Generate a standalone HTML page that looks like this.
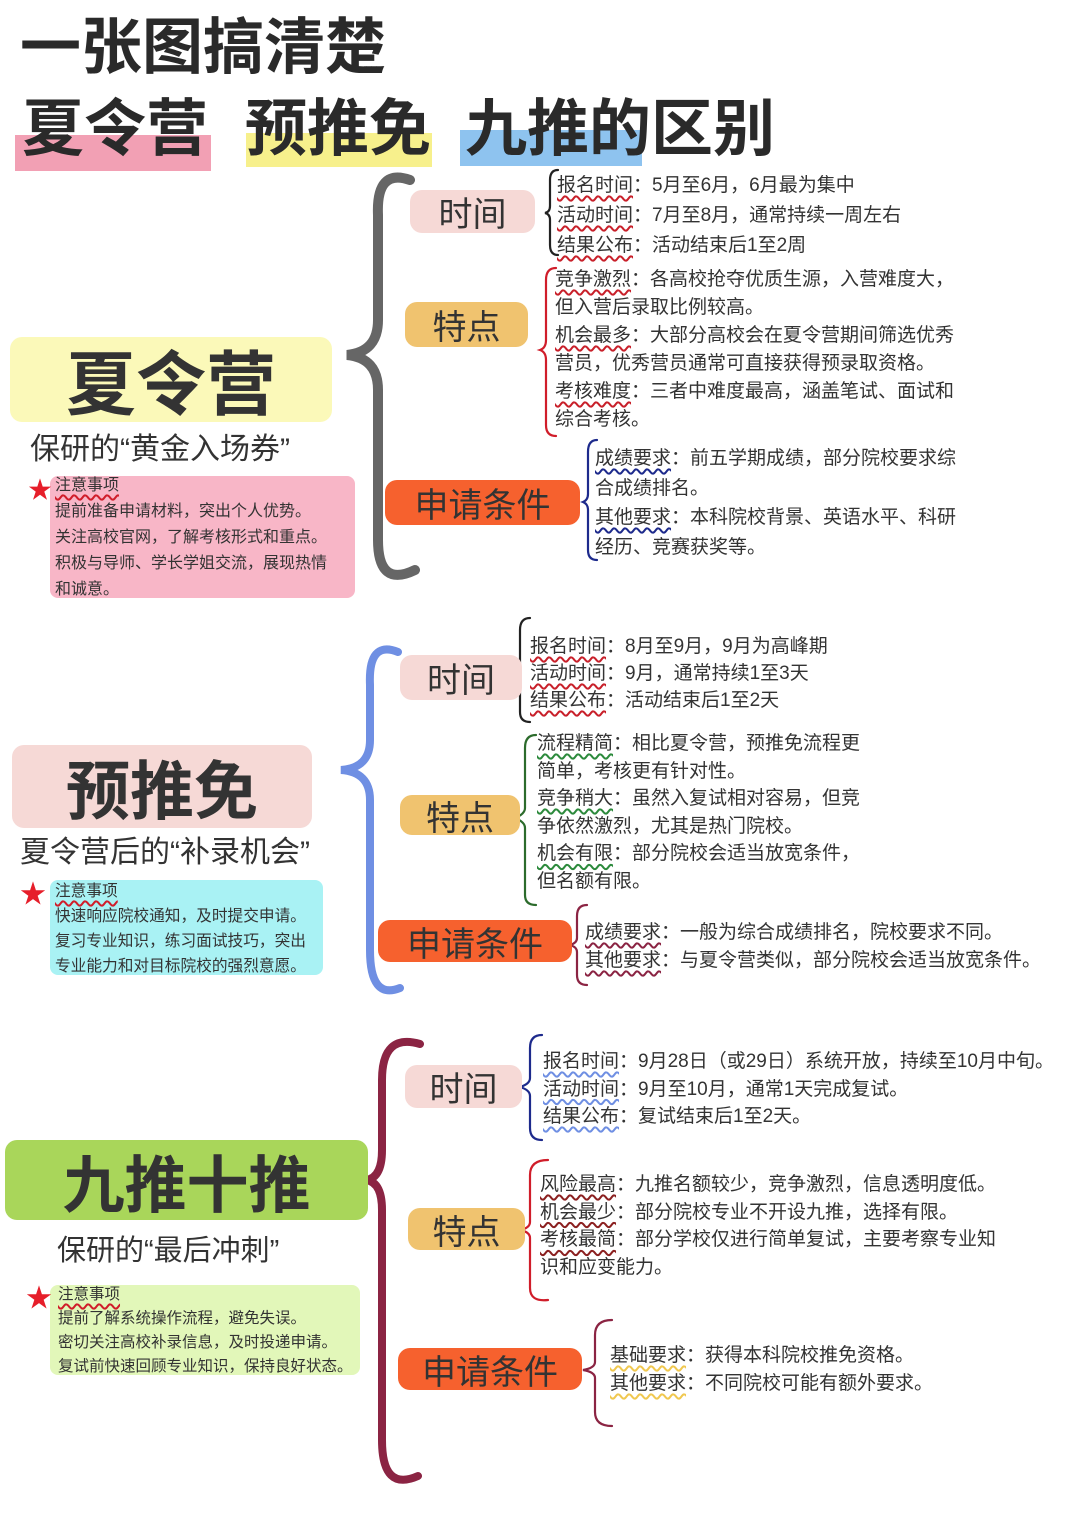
<!DOCTYPE html>
<html><head><meta charset="utf-8"><style>
body{margin:0;width:1080px;height:1528px;background:#fff;position:relative;overflow:hidden;font-family:"Liberation Sans","Noto Sans CJK SC",sans-serif;color:#222}
.a{position:absolute;white-space:nowrap}
.t{font-size:19px;line-height:24px;color:#333}
.n{font-size:16px;line-height:26px;color:#333}
.u{text-decoration:underline wavy;text-decoration-thickness:2px;text-underline-offset:4px}
.box{position:absolute;border-radius:12px;display:flex;align-items:center;justify-content:center;color:#333}
.hl{position:absolute}
.tt{position:absolute;font-size:62px;font-weight:bold;line-height:70px;color:#2a2a2a;white-space:nowrap}
</style></head><body>
<div class="hl" style="left:15px;top:135px;width:196px;height:36px;background:#f2a0b4"></div>
<div class="hl" style="left:246px;top:133px;width:186px;height:34px;background:#f7f08c"></div>
<div class="hl" style="left:460px;top:130px;width:182px;height:36px;background:#8ec3ef"></div>
<div class="a" style="left:20px;top:12px;font-size:61px;font-weight:bold;line-height:70px;color:#2a2a2a">一张图搞清楚</div>
<div class="tt" style="left:22px;top:95px">夏令营</div>
<div class="tt" style="left:245px;top:95px">预推免</div>
<div class="tt" style="left:465px;top:95px">九推的区别</div>

<svg class="a" style="left:0;top:0" width="1080" height="1528" fill="none" stroke-linecap="round">
<path d="M410,180 Q376,168 378,215 L378,320 Q378,352 347,355 Q378,358 378,390 L378,540 Q378,588 415,570" stroke="#666" stroke-width="10"/>
<path d="M398,652 Q368,640 370,685 L370,740 Q370,768 341,770 Q370,772 370,800 L370,950 Q370,1000 400,988" stroke="#6f8fe3" stroke-width="8"/>
<path d="M420,1044 Q382,1033 382,1080 L382,1150 Q382,1178 366,1180 Q382,1182 382,1210 L382,1440 Q382,1492 418,1476" stroke="#8b2443" stroke-width="8"/>
<g stroke-width="2.2">
<path d="M558,170 Q550,170 550,180 L550,206 Q550,212 545,213 Q550,214 550,220 L550,245 Q550,255 558,255" stroke="#222"/>
<path d="M556,268 Q546,268 546,280 L546,340 Q546,348 540,350 Q546,352 546,360 L546,425 Q546,436 556,436" stroke="#d01d2a"/>
<path d="M597,440 Q588,440 588,452 L588,494 Q588,500 583,502 Q588,504 588,510 L588,550 Q588,560 597,560" stroke="#1d2a8c"/>
<path d="M530,618 Q520,618 520,630 L520,664 Q520,670 514,672 Q520,674 520,680 L520,712 Q520,722 530,722" stroke="#222"/>
<path d="M536,735 Q525,735 525,748 L525,808 Q525,814 515,818 Q525,822 525,828 L525,895 Q525,905 536,905" stroke="#2c6b2c"/>
<path d="M587,905 Q577,905 577,916 L577,938 Q577,943 570,945 Q577,947 577,952 L577,975 Q577,985 587,985" stroke="#8b2443"/>
<path d="M542,1035 Q530,1035 530,1048 L530,1078 Q530,1084 520,1087 Q530,1090 530,1096 L530,1128 Q530,1140 542,1140" stroke="#1d2a8c"/>
<path d="M548,1160 Q530,1160 530,1175 L530,1222 Q530,1228 520,1230 Q530,1232 530,1238 L530,1288 Q530,1302 548,1300" stroke="#d01d2a"/>
<path d="M612,1320 Q595,1320 595,1335 L595,1362 Q595,1368 583,1370 Q595,1372 595,1378 L595,1412 Q595,1426 612,1426" stroke="#8b2443"/>
</g>
</svg>

<!-- Section 1 -->
<div class="box" style="left:410px;top:190px;width:125px;height:43px;background:#f6d9d6;font-size:34px">时间</div>
<div class="box" style="left:405px;top:302px;width:123px;height:45px;background:#f0c36f;font-size:34px">特点</div>
<div class="box" style="left:385px;top:480px;width:195px;height:45px;background:#f6612e;font-size:34px">申请条件</div>
<div class="box" style="left:10px;top:337px;width:322px;height:85px;background:#fbf9b9;font-size:70px;font-weight:bold">夏令营</div>
<div class="a" style="left:30px;top:430px;font-size:30px;line-height:40px;color:#333">保研的“黄金入场券”</div>
<div class="hl" style="left:50px;top:476px;width:305px;height:122px;background:#f8b6c7;border-radius:8px"></div>
<div class="a" style="left:28px;top:470px;font-size:24px;color:#e61e2a">★</div>
<div class="a n" style="left:55px;top:473px"><span class="u" style="text-decoration-color:#d01d2a">注意事项</span><br>提前准备申请材料，突出个人优势。<br>关注高校官网，了解考核形式和重点。<br>积极与导师、学长学姐交流，展现热情<br>和诚意。</div>
<div class="a t" style="left:557px;top:171px;line-height:30px"><span class="u" style="text-decoration-color:#c8202a">报名时间</span>：5月至6月，6月最为集中<br><span class="u" style="text-decoration-color:#c8202a">活动时间</span>：7月至8月，通常持续一周左右<br><span class="u" style="text-decoration-color:#c8202a">结果公布</span>：活动结束后1至2周</div>
<div class="a t" style="left:555px;top:266px;line-height:28px"><span class="u" style="text-decoration-color:#c8202a">竞争激烈</span>：各高校抢夺优质生源，入营难度大，<br>但入营后录取比例较高。<br><span class="u" style="text-decoration-color:#c8202a">机会最多</span>：大部分高校会在夏令营期间筛选优秀<br>营员，优秀营员通常可直接获得预录取资格。<br><span class="u" style="text-decoration-color:#c8202a">考核难度</span>：三者中难度最高，涵盖笔试、面试和<br>综合考核。</div>
<div class="a t" style="left:595px;top:444px;line-height:29.5px"><span class="u" style="text-decoration-color:#1d2a8c">成绩要求</span>：前五学期成绩，部分院校要求综<br>合成绩排名。<br><span class="u" style="text-decoration-color:#1d2a8c">其他要求</span>：本科院校背景、英语水平、科研<br>经历、竞赛获奖等。</div>

<!-- Section 2 -->
<div class="box" style="left:400px;top:655px;width:122px;height:45px;background:#f6d9d6;font-size:34px">时间</div>
<div class="box" style="left:400px;top:795px;width:120px;height:40px;background:#f0c36f;font-size:34px">特点</div>
<div class="box" style="left:378px;top:920px;width:194px;height:42px;background:#f6612e;font-size:34px">申请条件</div>
<div class="box" style="left:12px;top:745px;width:300px;height:83px;background:#f6d9d6;font-size:64px;font-weight:bold">预推免</div>
<div class="a" style="left:20px;top:833px;font-size:30px;line-height:40px;color:#333">夏令营后的“补录机会”</div>
<div class="hl" style="left:50px;top:880px;width:273px;height:95px;background:#a9f2f4;border-radius:8px"></div>
<div class="a" style="left:20px;top:874px;font-size:26px;color:#e61e2a">★</div>
<div class="a n" style="left:55px;top:879px;font-size:15.7px;line-height:25px"><span class="u" style="text-decoration-color:#d01d2a">注意事项</span><br>快速响应院校通知，及时提交申请。<br>复习专业知识，练习面试技巧，突出<br>专业能力和对目标院校的强烈意愿。</div>
<div class="a t" style="left:530px;top:633px;line-height:27px"><span class="u" style="text-decoration-color:#c8202a">报名时间</span>：8月至9月，9月为高峰期<br><span class="u" style="text-decoration-color:#c8202a">活动时间</span>：9月，通常持续1至3天<br><span class="u" style="text-decoration-color:#c8202a">结果公布</span>：活动结束后1至2天</div>
<div class="a t" style="left:537px;top:730px;line-height:27.6px"><span class="u" style="text-decoration-color:#2c8a3c">流程精简</span>：相比夏令营，预推免流程更<br>简单，考核更有针对性。<br><span class="u" style="text-decoration-color:#2c8a3c">竞争稍大</span>：虽然入复试相对容易，但竞<br>争依然激烈，尤其是热门院校。<br><span class="u" style="text-decoration-color:#2c8a3c">机会有限</span>：部分院校会适当放宽条件，<br>但名额有限。</div>
<div class="a t" style="left:585px;top:919px;line-height:28px"><span class="u" style="text-decoration-color:#8b2443">成绩要求</span>：一般为综合成绩排名，院校要求不同。<br><span class="u" style="text-decoration-color:#8b2443">其他要求</span>：与夏令营类似，部分院校会适当放宽条件。</div>

<!-- Section 3 -->
<div class="box" style="left:405px;top:1065px;width:117px;height:43px;background:#f6d9d6;font-size:34px">时间</div>
<div class="box" style="left:408px;top:1208px;width:117px;height:42px;background:#f0c36f;font-size:34px">特点</div>
<div class="box" style="left:398px;top:1348px;width:184px;height:42px;background:#f6612e;font-size:34px">申请条件</div>
<div class="box" style="left:5px;top:1140px;width:363px;height:80px;background:#a9d65a;font-size:62px;font-weight:bold">九推十推</div>
<div class="a" style="left:57px;top:1231px;font-size:29px;line-height:40px;color:#333">保研的“最后冲刺”</div>
<div class="hl" style="left:50px;top:1285px;width:310px;height:90px;background:#e2f7b9;border-radius:8px"></div>
<div class="a" style="left:26px;top:1278px;font-size:26px;color:#e61e2a">★</div>
<div class="a n" style="left:58px;top:1283px;font-size:15.5px;line-height:24px"><span class="u" style="text-decoration-color:#d01d2a">注意事项</span><br>提前了解系统操作流程，避免失误。<br>密切关注高校补录信息，及时投递申请。<br>复试前快速回顾专业知识，保持良好状态。</div>
<div class="a t" style="left:543px;top:1048px;line-height:27.5px"><span class="u" style="text-decoration-color:#6f8fe3">报名时间</span>：9月28日（或29日）系统开放，持续至10月中旬。<br><span class="u" style="text-decoration-color:#6f8fe3">活动时间</span>：9月至10月，通常1天完成复试。<br><span class="u" style="text-decoration-color:#6f8fe3">结果公布</span>：复试结束后1至2天。</div>
<div class="a t" style="left:540px;top:1171px;line-height:27.7px"><span class="u" style="text-decoration-color:#8b2020">风险最高</span>：九推名额较少，竞争激烈，信息透明度低。<br><span class="u" style="text-decoration-color:#8b2020">机会最少</span>：部分院校专业不开设九推，选择有限。<br><span class="u" style="text-decoration-color:#8b2020">考核最简</span>：部分学校仅进行简单复试，主要考察专业知<br>识和应变能力。</div>
<div class="a t" style="left:610px;top:1342px;line-height:28px"><span class="u" style="text-decoration-color:#f0c850">基础要求</span>：获得本科院校推免资格。<br><span class="u" style="text-decoration-color:#f0c850">其他要求</span>：不同院校可能有额外要求。</div>
</body></html>
